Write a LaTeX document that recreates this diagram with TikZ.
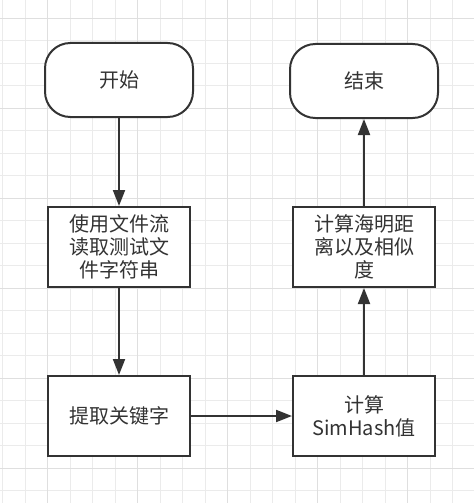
\documentclass[tikz,border=0pt]{standalone}
\usepackage{fontspec}
\newfontfamily\cjk{Noto Sans CJK SC}
\usetikzlibrary{arrows.meta}
\definecolor{ink}{HTML}{333333}
\definecolor{gridminor}{HTML}{EBEBEB}
\definecolor{gridmajor}{HTML}{DFDFDF}
\tikzset{
  box/.style={draw=ink,fill=white,line width=1.5pt,minimum width=106.5pt,
    minimum height=60pt,inner sep=0pt,align=center,text=ink,
    font=\cjk\fontsize{15}{17.3}\selectfont},
  term/.style={box,rounded corners=19pt,minimum width=111pt,minimum height=55.5pt},
  flow/.style={draw=ink,line width=1.5pt,-{Triangle[length=12pt,width=9pt]}}
}
\begin{document}
\begin{tikzpicture}[x=0.75pt,y=-0.75pt]
      \useasboundingbox (0,0) rectangle (474,503);
      \fill[white] (0,0) rectangle (474,503);
      \foreach \k in {0,...,20}
        \draw[gridminor,line width=0.75pt] (2.7+22.5*\k,0) -- (2.7+22.5*\k,503);
      \foreach \k in {0,...,21}
        \draw[gridminor,line width=0.75pt] (0,18.3+22.5*\k) -- (474,18.3+22.5*\k);
      \foreach \k in {0,...,4}
        \draw[gridmajor,line width=1pt] (47.7+90*\k,0) -- (47.7+90*\k,503);
      \foreach \k in {0,...,5}
        \draw[gridmajor,line width=1pt] (0,18.3+90*\k) -- (474,18.3+90*\k);
      \draw
        (119,80) node[term] (start) {开始}
        (119,247) node[box] (read) {使用文件流\\读取测试文\\件字符串}
        (119,416) node[box] (extract) {提取关键字}
        (364,416) node[box] (simhash) {计算\\SimHash值}
        (364,247) node[box] (hamming) {计算海明距\\离以及相似\\度}
        (364,81) node[term] (finish) {结束};
      \begin{scope}[flow]
        \draw (start) to (read);
        \draw (read) to (extract);
        \draw (extract) to (simhash);
        \draw (simhash) to (hamming);
        \draw (hamming) to (finish);
      \end{scope}
    \end{tikzpicture}
\end{document}
